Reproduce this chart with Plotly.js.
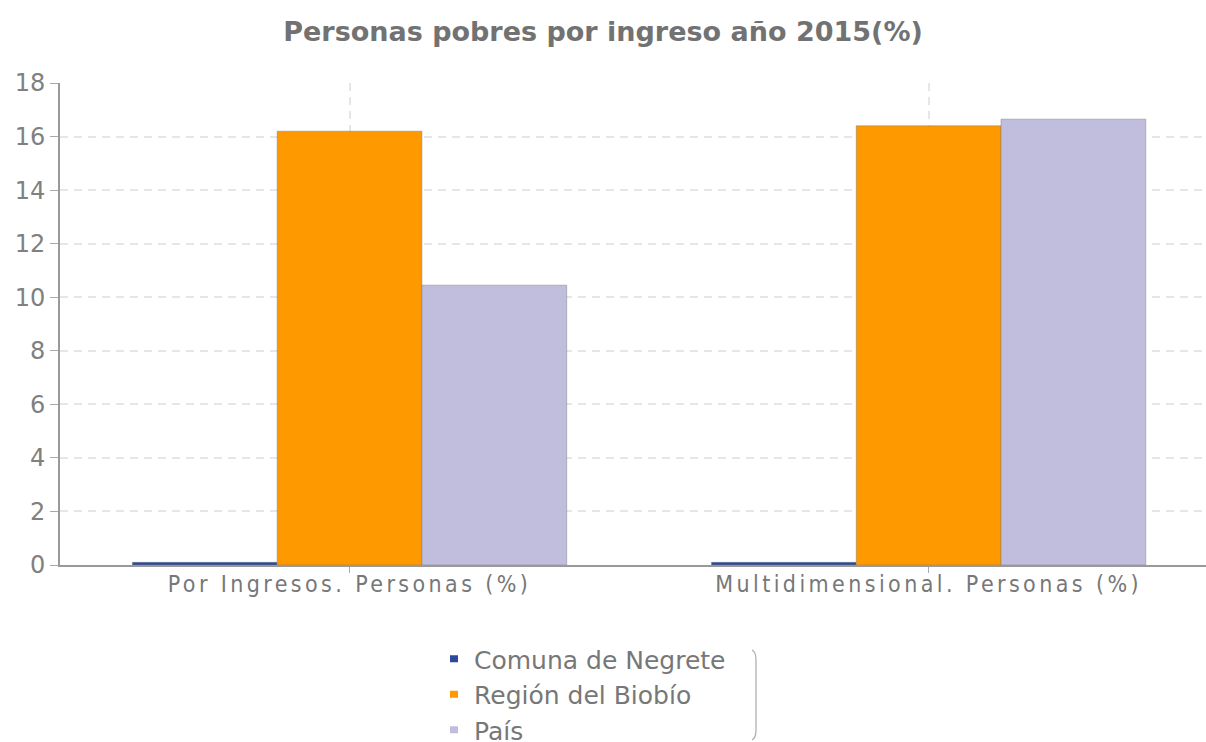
<!DOCTYPE html>
<html>
<head>
<meta charset="utf-8">
<script src="https://cdn.plot.ly/plotly-3.0.1.min.js"></script>
<style>
html,body{margin:0;padding:0;background:#fff;}
#chart{width:1206px;height:742px;}
#chart .xtick text{letter-spacing:3.4px;}
</style>
</head>
<body>
<div id="chart"></div>
<script>
const categories = ["Por Ingresos. Personas (%)", "Multidimensional. Personas (%)"];
const seriesNames = ["Comuna de Negrete", "Región del Biobío", "País"];
const negrete = [0.1, 0.1];
const biobio = [16.2, 16.4];
const pais = [10.45, 16.65];
const yTicks = [0, 2, 4, 6, 8, 10, 12, 14, 16, 18];

const colors = ["#2b4a9c", "#ff9900", "#c1bddd"];
const values = [negrete, biobio, pais];

const traces = values.map((v, i) => ({
  type: "bar",
  name: seriesNames[i],
  x: categories,
  y: v,
  marker: {color: colors[i], line: {color: "rgba(120,120,120,0.45)", width: 1}},
  hoverinfo: "x+y+name"
}));

const font = "'DejaVu Sans', Verdana, sans-serif";

const layout = {
  width: 1206, height: 742,
  margin: {l: 60, r: 0, t: 83, b: 177, autoexpand: false},
  paper_bgcolor: "#fff", plot_bgcolor: "#fff",
  barmode: "group", bargap: 0.25, bargroupgap: 0,
  title: {text: "Personas pobres por ingreso año 2015(%)", x: 0.5, xanchor: "center", y: 0.957, yanchor: "middle",
          font: {family: font, size: 27, color: "#727272", weight: "bold"}},
  xaxis: {
    type: "category", range: [-0.5, 1.479], tickangle: 0, automargin: false,
    showgrid: true, gridcolor: "#e6e6e6", griddash: "8px,6px", gridwidth: 2,
    showline: true, linecolor: "#999", linewidth: 2,
    ticks: "outside", ticklen: 6, tickcolor: "#aaa",
    ticklabelstandoff: -9,
    tickfont: {family: "'DejaVu Sans Condensed', 'Liberation Sans Narrow', sans-serif", size: 23, color: "#777"},
    zeroline: false, fixedrange: true
  },
  yaxis: {
    range: [0, 18], tickvals: yTicks, ticktext: yTicks.map(String), automargin: false,
    showgrid: true, gridcolor: "#e6e6e6", griddash: "8px,6px", gridwidth: 2,
    showline: true, linecolor: "#999", linewidth: 2,
    ticks: "outside", ticklen: 8, tickcolor: "#aaa",
    tickfont: {family: font, size: 24, color: "#808080"},
    zeroline: false, fixedrange: true
  },
  showlegend: true,
  legend: {
    orientation: "v", xref: "container", yref: "container",
    x: 434/1206, xanchor: "left", y: 1 - 636/742, yanchor: "top",
    font: {family: font, size: 25, color: "#777"},
    itemwidth: 30, tracegroupgap: 0, bgcolor: "rgba(0,0,0,0)"
  },
  shapes: [
    {type: "path", xref: "paper", yref: "paper",
     path: "M " + ((752-60)/1146) + "," + (-(650-565)/482) + " Q " + ((756-60)/1146) + "," + (-(652-565)/482) + " " + ((756-60)/1146) + "," + (-(660-565)/482) + " L " + ((756-60)/1146) + "," + (-(730-565)/482) + " Q " + ((756-60)/1146) + "," + (-(738-565)/482) + " " + ((752-60)/1146) + "," + (-(740-565)/482),
     line: {color: "#aaa", width: 1.2}}
  ]
};

Plotly.newPlot("chart", traces, layout, {displayModeBar: false, staticPlot: true}).then(gd => {
  gd.querySelectorAll(".legend .legendpoints path").forEach(p => {
    p.setAttribute("d", "M4,3.5H-4V-3.5H4Z");
    p.style.strokeWidth = "0";
  });
});
</script>
</body>
</html>
